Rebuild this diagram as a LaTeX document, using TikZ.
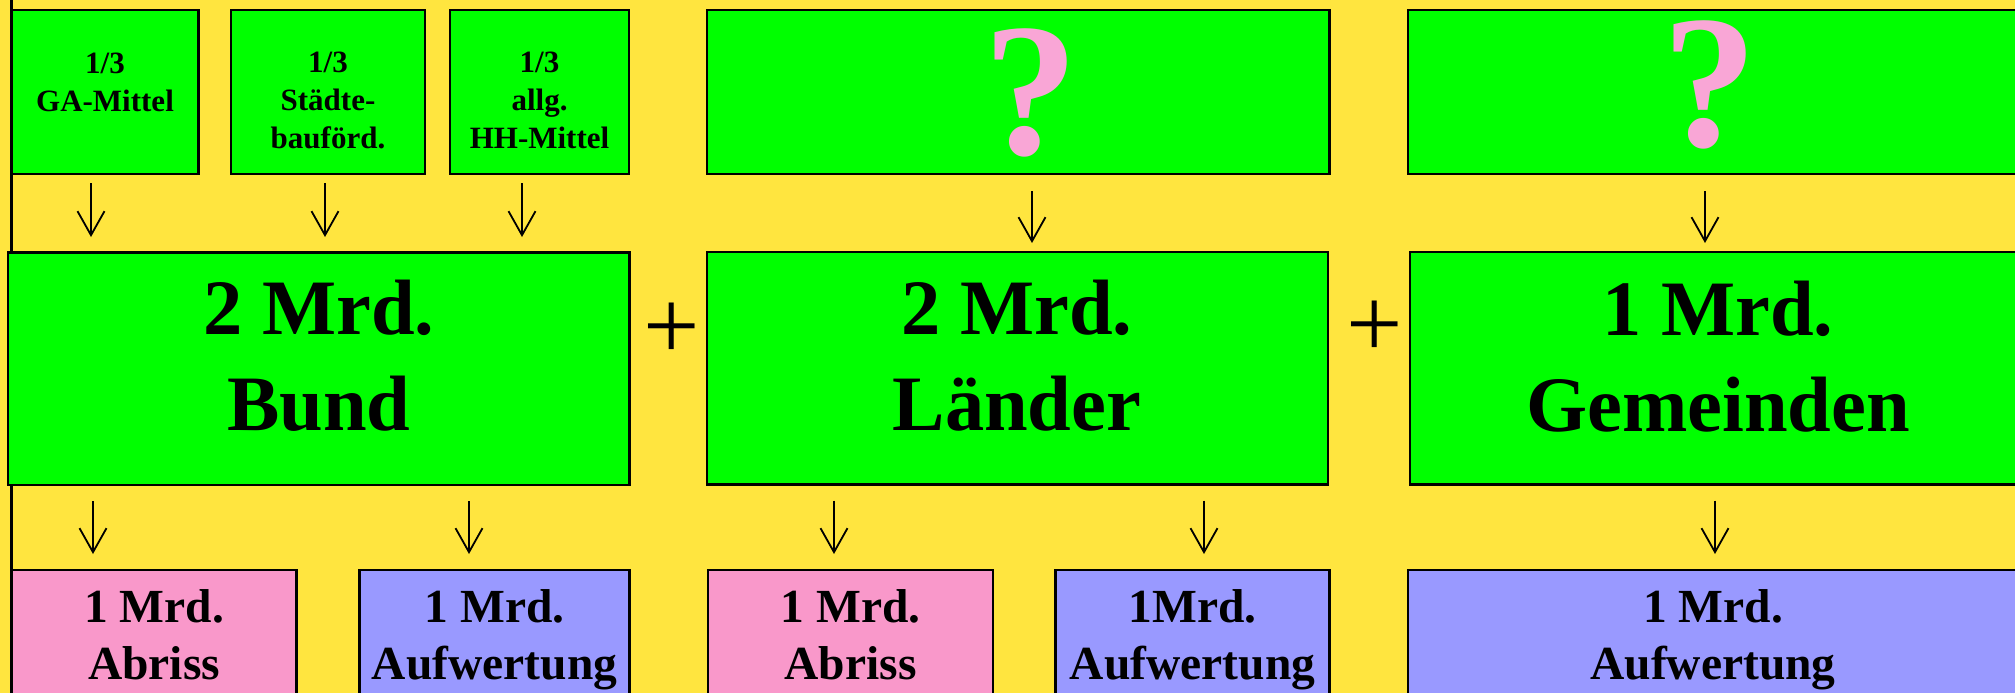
\documentclass[tikz,border=0pt]{standalone}
\usepackage{fontspec}
\setmainfont{Liberation Serif}
\usetikzlibrary{arrows.meta}
\definecolor{bgyel}{HTML}{FFE53F}
\definecolor{grn}{HTML}{00FF00}
\definecolor{pinkbox}{HTML}{F998CA}
\definecolor{lav}{HTML}{9999FF}
\definecolor{qpink}{HTML}{F9A6D6}
\tikzset{
  box/.style={draw=black, line width=2.5pt, inner sep=0pt, outer sep=0pt, anchor=north west},
  gbox/.style={box, fill=grn},
  pbox/.style={box, fill=pinkbox},
  lbox/.style={box, fill=lav},
  arr/.style={line width=1.8pt, -{Straight Barb[length=24pt,width=27pt]}},
  smalltxt/.style={font=\fontsize{31}{38}\selectfont\bfseries, align=center, anchor=base, inner sep=0pt},
  bigtxt/.style={font=\fontsize{78.5}{96}\selectfont\bfseries, align=center, anchor=base, inner sep=0pt},
  midtxt/.style={font=\fontsize{47.5}{57.5}\selectfont\bfseries, align=center, anchor=base, inner sep=0pt},
  qmark/.style={font=\fontsize{190}{190}\selectfont\bfseries, text=qpink, inner sep=0pt, anchor=base},
  plus/.style={font=\fontsize{100}{100}\selectfont, inner sep=0pt, anchor=center}
}
\begin{document}
\begin{tikzpicture}[x=1pt,y=-1pt]
\useasboundingbox (0,0) rectangle (2015,693);
\clip (0,0) rectangle (2015,693);
\fill[bgyel] (0,0) rectangle (2015,693);
\draw[line width=2.5pt] (11.5,-5) -- (11.5,700);
% top row
\node[gbox, minimum width=187pt, minimum height=164pt] (ga) at (11.5,10) {};
\node[gbox, minimum width=194pt, minimum height=164pt] (sb) at (231,10) {};
\node[gbox, minimum width=179pt, minimum height=164pt] (hh) at (450,10) {};
\node[gbox, minimum width=622.5pt, minimum height=164pt] (q1) at (707,10) {};
\node[gbox, minimum width=620pt, minimum height=164pt] (q2) at (1408,10) {};
\node[smalltxt] (gat) at (105,111) {1/3\\GA-Mittel};
\node[smalltxt] (sbt) at (328,148.7) {1/3\\Städte-\\bauförd.};
\node[smalltxt] (hht) at (539.5,148.7) {1/3\\allg.\\HH-Mittel};
\node[qmark] (q1t) at (1031,154) {?};
\node[qmark] (q2t) at (1710,146) {?};
% middle row
\node[gbox, minimum width=621.5pt, minimum height=232.5pt] (bund) at (8,252.5) {};
\node[gbox, minimum width=621pt, minimum height=232.5pt] (laender) at (707,252) {};
\node[gbox, minimum width=620pt, minimum height=232.5pt] (gem) at (1410,252) {};
\node[bigtxt] (bundt) at (319,430) {2 Mrd.\\Bund};
\node[bigtxt] (laendert) at (1017,430) {2 Mrd.\\Länder};
\node[bigtxt] (gemt) at (1718,431) {1 Mrd.\\Gemeinden};
\node[plus] (p1) at (672,331) {+};
\node[plus] (p2) at (1375,329) {+};
% bottom row
\node[pbox, minimum width=285pt, minimum height=160pt] (abr1) at (11.5,570) {};
\node[lbox, minimum width=270pt, minimum height=160pt] (auf1) at (359.5,570) {};
\node[pbox, minimum width=285pt, minimum height=160pt] (abr2) at (708,570) {};
\node[lbox, minimum width=274pt, minimum height=160pt] (auf2) at (1055.5,570) {};
\node[lbox, minimum width=620pt, minimum height=160pt] (auf3) at (1408,570) {};
\node[midtxt] (abr1t) at (154,679.5) {1 Mrd.\\Abriss};
\node[midtxt] (auf1t) at (494.5,679.5) {1 Mrd.\\Aufwertung};
\node[midtxt] (abr2t) at (850.5,679.5) {1 Mrd.\\Abriss};
\node[midtxt] (auf2t) at (1192.5,679.5) {1Mrd.\\Aufwertung};
\node[midtxt] (auf3t) at (1713,679.5) {1 Mrd.\\Aufwertung};
% arrow columns
\coordinate (c1) at (91,0);
\coordinate (c2) at (325,0);
\coordinate (c3) at (522,0);
\coordinate (c4) at (1032,0);
\coordinate (c5) at (1705,0);
\coordinate (c6) at (93,0);
\coordinate (c7) at (469,0);
\coordinate (c8) at (834,0);
\coordinate (c9) at (1204,0);
\coordinate (c10) at (1715,0);
\draw[arr, shorten <=9pt, shorten >=15.5pt] (ga.south -| c1) -- (bund.north -| c1);
\draw[arr, shorten <=9pt, shorten >=15.5pt] (sb.south -| c2) -- (bund.north -| c2);
\draw[arr, shorten <=9pt, shorten >=15.5pt] (hh.south -| c3) -- (bund.north -| c3);
\draw[arr, shorten <=17pt, shorten >=9pt] (q1.south -| c4) -- (laender.north -| c4);
\draw[arr, shorten <=17pt, shorten >=9pt] (q2.south -| c5) -- (gem.north -| c5);
\draw[arr, shorten <=16pt, shorten >=16pt] (bund.south -| c6) -- (abr1.north -| c6);
\draw[arr, shorten <=16pt, shorten >=16pt] (bund.south -| c7) -- (auf1.north -| c7);
\draw[arr, shorten <=16pt, shorten >=16pt] (laender.south -| c8) -- (abr2.north -| c8);
\draw[arr, shorten <=16pt, shorten >=16pt] (laender.south -| c9) -- (auf2.north -| c9);
\draw[arr, shorten <=16pt, shorten >=16pt] (gem.south -| c10) -- (auf3.north -| c10);
\end{tikzpicture}
\end{document}
